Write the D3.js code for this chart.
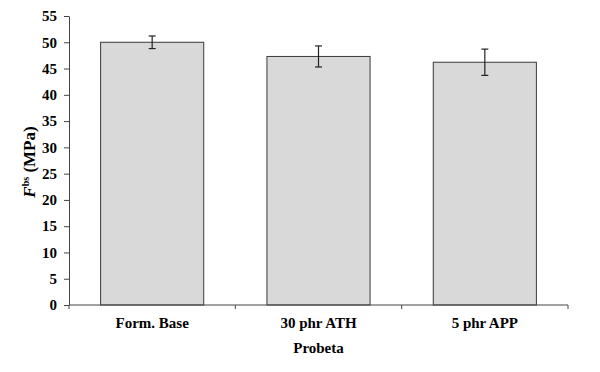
<!DOCTYPE html>
<html><head><meta charset="utf-8">
<script src="https://cdn.jsdelivr.net/npm/d3@7"></script>
<style>body{margin:0;background:#fff}svg{display:block}</style>
</head><body><svg id="c" width="600" height="372"></svg>
<script>
const categories = ["Form. Base", "30 phr ATH", "5 phr APP"];
const values = [50.0, 47.3, 46.2];
const errors = [1.2, 2.0, 2.5];
const yTicks = [0,5,10,15,20,25,30,35,40,45,50,55];

const FONT = "'Liberation Serif', 'Times New Roman', serif";
const svg = d3.select("#c");
const x0 = 69, x1 = 568, yTop = 16, yBot = 305;
const x = d3.scaleBand().domain(categories).range([x0, x1]).paddingInner(0.38).paddingOuter(0.19);
const y = d3.scaleLinear().domain([0, 55]).range([yBot, yTop]);

// bars
svg.selectAll("rect.bar").data(values).join("rect")
  .attr("x", (d,i)=>x(categories[i])).attr("y", d=>y(d))
  .attr("width", x.bandwidth()).attr("height", d=>yBot - y(d))
  .attr("fill", "#d9d9d9").attr("stroke", "#3a3a3a").attr("stroke-width", 1);

// error bars
const eb = svg.selectAll("g.err").data(values).join("g").attr("stroke","#222").attr("stroke-width",1.2);
const cx = i => x(categories[i]) + x.bandwidth()/2;
eb.append("line").attr("x1",(d,i)=>cx(i)).attr("x2",(d,i)=>cx(i))
  .attr("y1",(d,i)=>y(d+errors[i])).attr("y2",(d,i)=>y(d-errors[i]));
eb.append("line").attr("x1",(d,i)=>cx(i)-3.5).attr("x2",(d,i)=>cx(i)+3.5)
  .attr("y1",(d,i)=>y(d+errors[i])).attr("y2",(d,i)=>y(d+errors[i]));
eb.append("line").attr("x1",(d,i)=>cx(i)-3.5).attr("x2",(d,i)=>cx(i)+3.5)
  .attr("y1",(d,i)=>y(d-errors[i])).attr("y2",(d,i)=>y(d-errors[i]));

// y axis
const ya = svg.append("g").attr("transform",`translate(${x0},0)`)
  .call(d3.axisLeft(y).tickValues(yTicks).tickSize(5).tickPadding(7).tickSizeOuter(0));
ya.select(".domain").attr("stroke","#444");
ya.selectAll(".tick line").attr("stroke","#444");
ya.selectAll("text").attr("font-size",15).attr("fill","#000").style("font-family",FONT).attr("font-weight","bold");

// x axis
const xa = svg.append("g").attr("transform",`translate(0,${yBot})`);
xa.append("line").attr("x1",x0).attr("x2",x1).attr("stroke","#444");
const bounds = [x0, ...categories.slice(1).map(c=>x(c)-x.step()*x.paddingInner()/2), x1];
xa.selectAll("line.tk").data(bounds).join("line").attr("class","tk")
  .attr("x1",d=>d).attr("x2",d=>d).attr("y1",0).attr("y2",4).attr("stroke","#444");
xa.selectAll("text.cat").data(categories).join("text").attr("class","cat")
  .attr("x",d=>x(d)+x.bandwidth()/2).attr("y",23).attr("text-anchor","middle")
  .style("font-family",FONT).attr("font-weight","bold")
  .attr("font-size",15).attr("fill","#000").text(d=>d);

svg.append("text").attr("x",(x0+x1)/2).attr("y",353).attr("text-anchor","middle")
  .style("font-family",FONT).attr("font-weight","bold")
  .attr("font-size",15).text("Probeta");

const yl = svg.append("text").attr("transform","translate(35,162) rotate(-90)").attr("text-anchor","middle")
  .style("font-family",FONT).attr("font-weight","bold").attr("font-size",17);
yl.append("tspan").attr("font-style","italic").text("F");
yl.append("tspan").attr("font-size",10).attr("dy",-6).text("bs");
yl.append("tspan").attr("dy",6).text(" (MPa)");
</script></body></html>
